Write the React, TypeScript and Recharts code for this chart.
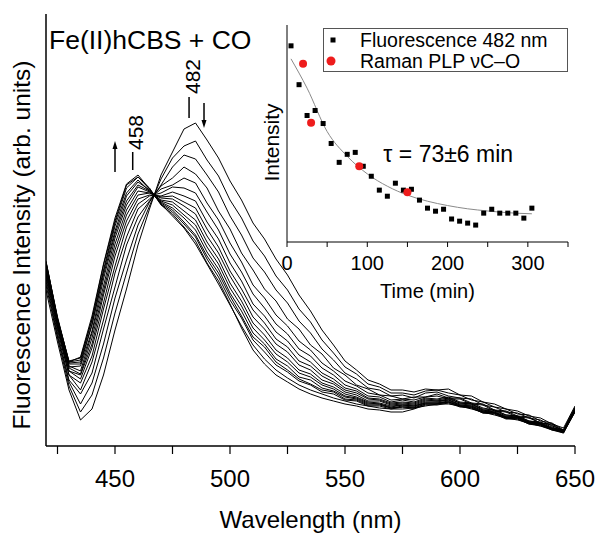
import React from "react";
import {
  LineChart, Line, XAxis, YAxis, ReferenceArea, ReferenceDot, ReferenceLine,
  ComposedChart, Scatter, Legend,
} from "recharts";

const FONT = "'Liberation Sans', Arial, Helvetica, sans-serif";
const RED = "#ee1c1c";

// Main panel: emission spectra (arb. units), 5 nm steps
const wavelengths = [420, 425, 430, 435, 440, 445, 450, 455, 460, 465, 470, 475, 480, 485, 490, 495, 500, 505, 510, 515, 520, 525, 530, 535, 540, 545, 550, 555, 560, 565, 570, 575, 580, 585, 590, 595, 600, 605, 610, 615, 620, 625, 630, 635, 640, 645, 650];

const spec00 = [156, 104, 56, 26, 37, 71, 116, 157, 201, 237, 271, 294, 317, 323, 306, 288, 265, 246, 223, 207, 187, 171, 151, 135, 116, 101, 85, 76, 66, 62, 56, 56, 54, 57, 56, 57, 51, 50, 44, 42, 37, 35, 30, 28, 22, 18, 40];
const spec01 = [161, 108, 60, 34, 51, 88, 133, 173, 212, 240, 267, 288, 300, 305, 286, 270, 246, 228, 205, 190, 170, 156, 137, 124, 106, 93, 79, 72, 62, 59, 53, 53, 51, 55, 56, 53, 51, 46, 44, 39, 37, 32, 31, 25, 23, 16, 39];
const spec02 = [165, 110, 64, 42, 63, 102, 148, 186, 221, 244, 261, 279, 291, 287, 271, 254, 230, 211, 188, 174, 156, 143, 125, 113, 97, 86, 73, 67, 58, 56, 50, 51, 48, 53, 54, 50, 48, 47, 41, 39, 34, 33, 28, 26, 20, 16, 38];
const spec03 = [168, 113, 66, 52, 73, 117, 159, 201, 229, 245, 260, 268, 279, 272, 258, 235, 217, 193, 176, 157, 145, 127, 117, 101, 92, 78, 71, 61, 57, 51, 50, 47, 49, 49, 52, 48, 48, 43, 42, 36, 35, 30, 29, 23, 22, 15, 38];
const spec04 = [171, 116, 71, 56, 84, 126, 173, 209, 237, 247, 257, 261, 268, 263, 243, 226, 203, 184, 161, 148, 131, 120, 105, 96, 83, 75, 65, 60, 53, 51, 46, 47, 46, 49, 50, 47, 47, 42, 41, 35, 34, 29, 28, 23, 21, 15, 37];
const spec05 = [173, 119, 71, 63, 90, 137, 180, 219, 242, 250, 253, 259, 258, 253, 234, 216, 192, 174, 152, 138, 122, 112, 97, 90, 78, 71, 61, 57, 50, 49, 44, 46, 44, 48, 47, 49, 44, 43, 38, 36, 31, 30, 25, 24, 19, 15, 37];
const spec06 = [175, 119, 75, 67, 98, 143, 190, 225, 247, 251, 250, 254, 250, 245, 224, 207, 183, 165, 142, 130, 114, 105, 91, 84, 73, 67, 58, 55, 48, 47, 43, 44, 43, 47, 46, 48, 43, 42, 37, 36, 31, 30, 25, 23, 18, 16, 36];
const spec07 = [177, 122, 75, 71, 102, 151, 196, 231, 251, 253, 249, 250, 244, 238, 217, 199, 175, 157, 136, 123, 107, 99, 85, 80, 70, 64, 56, 53, 47, 46, 42, 43, 42, 46, 45, 47, 43, 42, 36, 35, 30, 29, 24, 23, 18, 16, 36];
const spec08 = [178, 122, 78, 72, 108, 155, 202, 236, 255, 253, 248, 247, 240, 232, 210, 193, 170, 151, 129, 117, 102, 94, 81, 76, 66, 62, 54, 51, 45, 45, 41, 42, 41, 45, 45, 46, 42, 41, 36, 34, 29, 29, 24, 22, 17, 16, 35];
const spec09 = [180, 123, 80, 75, 113, 160, 208, 241, 259, 254, 246, 244, 235, 226, 204, 187, 163, 145, 123, 111, 96, 88, 76, 72, 63, 59, 52, 49, 44, 43, 40, 41, 40, 44, 44, 46, 41, 40, 35, 34, 29, 29, 24, 22, 17, 14, 35];
const spec10 = [181, 126, 79, 80, 115, 167, 212, 245, 261, 255, 245, 241, 231, 221, 199, 182, 158, 140, 118, 106, 92, 84, 73, 69, 61, 57, 50, 48, 43, 42, 39, 41, 40, 43, 43, 45, 41, 40, 35, 33, 29, 28, 23, 22, 17, 15, 35];
const spec11 = [182, 126, 82, 82, 121, 171, 215, 250, 264, 256, 244, 238, 228, 216, 194, 177, 153, 135, 113, 102, 87, 80, 69, 66, 58, 55, 49, 47, 42, 42, 38, 40, 39, 43, 43, 44, 40, 39, 34, 33, 28, 28, 23, 22, 17, 14, 35];
const spec12 = [183, 127, 83, 84, 122, 174, 220, 253, 266, 255, 243, 236, 224, 211, 190, 173, 150, 130, 109, 99, 84, 76, 67, 62, 56, 54, 47, 46, 41, 41, 38, 39, 38, 42, 42, 44, 40, 39, 34, 33, 28, 28, 23, 21, 17, 13, 35];
const spec13 = [184, 128, 84, 86, 126, 176, 223, 258, 269, 257, 242, 234, 222, 209, 187, 169, 146, 128, 106, 94, 81, 74, 65, 61, 54, 52, 46, 45, 40, 40, 37, 39, 38, 42, 42, 44, 40, 38, 33, 33, 28, 27, 22, 21, 16, 14, 34];
const spec14 = [185, 127, 85, 88, 127, 181, 225, 261, 269, 258, 241, 232, 219, 205, 183, 165, 142, 118, 96, 82, 71, 64, 57, 52, 48, 45, 42, 40, 37, 36, 34, 34, 37, 41, 41, 43, 39, 38, 33, 32, 27, 27, 22, 20, 16, 13, 34];
const spec15 = [184, 129, 84, 89, 130, 182, 228, 262, 271, 257, 242, 230, 218, 202, 182, 162, 141, 120, 101, 87, 76, 68, 61, 56, 52, 48, 45, 42, 40, 38, 37, 37, 38, 40, 42, 42, 40, 37, 34, 31, 28, 26, 23, 20, 17, 14, 35];

const spectra = [spec00, spec01, spec02, spec03, spec04, spec05, spec06, spec07, spec08, spec09, spec10, spec11, spec12, spec13, spec14, spec15];

const xTicks = [425, 450, 475, 500, 525, 550, 575, 600, 625, 650];

// Inset: kinetics at 482 nm
const fluoTime = [5, 15, 25, 35, 45, 55, 65, 75, 85, 95, 105, 115, 125, 135, 145, 155, 165, 175, 185, 195, 205, 215, 225, 235, 245, 255, 265, 275, 285, 295, 305];
const fluoInt = [90.4, 72.5, 58.3, 60.6, 54.6, 45.4, 36.7, 40.4, 41.3, 34.9, 30.3, 23.9, 21.1, 27.1, 23.9, 24.3, 19.3, 15.6, 14.2, 15.1, 10.6, 9.6, 8.7, 7.8, 13.3, 15.1, 13.3, 13.3, 13.3, 11.0, 15.6];
const ramanTime = [20, 30, 90, 150];
const ramanInt = [82.1, 55.0, 34.9, 22.9];
const fitTime = [5, 25, 50, 75, 100, 125, 150, 175, 200, 225, 250, 275, 305];
const fitInt = [84.4, 70.9, 50.9, 39.5, 31.4, 25.7, 21.6, 18.8, 16.8, 15.3, 14.3, 13.5, 13.0];
const insetTicks = [0, 50, 100, 150, 200, 250, 300, 350];

const spectraData = wavelengths.map((wl, i) => {
  const row: any = { wl };
  spectra.forEach((s, k) => { row[`s${k}`] = s[i]; });
  return row;
});
const fluoData = fluoTime.map((t, i) => ({ t, v: fluoInt[i] }));
const ramanData = ramanTime.map((t, i) => ({ t, v: ramanInt[i] }));
const fitData = fitTime.map((t, i) => ({ t, v: fitInt[i] }));

// line with a filled arrow head at (x2, y2)
const Arrow = (props: any) => {
  const { x1, y1, x2, y2 } = props;
  const dx = x2 - x1, dy = y2 - y1;
  const len = Math.sqrt(dx * dx + dy * dy) || 1;
  const ux = dx / len, uy = dy / len;
  const hl = 8, hw = 2.5;
  const bx = x2 - ux * hl, by = y2 - uy * hl;
  return (
    <g>
      <line x1={x1} y1={y1} x2={bx} y2={by} stroke="#000" strokeWidth={1.5} />
      <polygon points={`${x2},${y2} ${bx - uy * hw},${by + ux * hw} ${bx + uy * hw},${by - ux * hw}`} fill="#000" />
    </g>
  );
};

const rotatedText = (text: string, size: number) => (p: any) => (
  <text x={p.cx} y={p.cy} transform={`rotate(-90 ${p.cx} ${p.cy})`} textAnchor="middle"
    dominantBaseline="central" fontSize={size} fontFamily={FONT} fill="#000">{text}</text>
);

const plainText = (text: string, size: number) => (p: any) => (
  <text x={p.cx} y={p.cy} textAnchor="start" fontSize={size} fontFamily={FONT} fill="#000">{text}</text>
);

const legendIcons: Record<string, string> = {
  "Fluorescence 482 nm": "square",
  "Raman PLP \u03bdC\u2013O": "circle",
};

const InsetLegend = ({ payload }: any) => (
  <div style={{ border: "1px solid #555", width: 245, height: 44, boxSizing: "border-box", padding: "1px 0 0 0" }}>
    {(payload || []).filter((e: any) => e.type !== "none").map((e: any) => (
      <div key={e.value} style={{ display: "flex", alignItems: "center", height: 20.5, fontFamily: FONT, color: "#000", whiteSpace: "nowrap" }}>
        <svg width={36} height={20} style={{ flex: "none" }}>
          {legendIcons[e.value] === "circle"
            ? <circle cx={7} cy={10} r={4.5} fill={RED} />
            : <rect x={6.5} y={7.5} width={5} height={5} fill="#000" />}
        </svg>
        <span style={{ display: "inline-block", fontSize: 19.5, lineHeight: "20px", height: 20, overflow: "visible" }}>{e.value}</span>
      </div>
    ))}
  </div>
);

const SquareDot = (p: any) => <rect x={p.cx - 2.5} y={p.cy - 2.5} width={5} height={5} fill="#000" />;
const RedDot = (p: any) => <circle cx={p.cx} cy={p.cy} r={4} fill={RED} />;

function MainChart() {
  return (
    <LineChart width={601} height={536} data={spectraData} margin={{ top: 14, right: 26, left: 0, bottom: 0 }}>
      <XAxis dataKey="wl" type="number" domain={[420, 650]} ticks={xTicks} allowDataOverflow
        tickFormatter={(v: number) => (v % 50 === 0 ? String(v) : "")}
        height={90} tickSize={8} tickMargin={16}
        axisLine={{ stroke: "#000", strokeWidth: 1.5 }} tickLine={{ stroke: "#000", strokeWidth: 1.2 }}
        tick={{ fill: "#000", fontSize: 24, fontFamily: FONT }}
        label={{ value: "Wavelength (nm)", position: "insideBottom", offset: 8, fill: "#000", fontSize: 24, fontFamily: FONT }} />
      <YAxis type="number" domain={[0, 432]} width={46} tick={false} tickLine={false}
        axisLine={{ stroke: "#000", strokeWidth: 1.5 }}
        label={{ value: "Fluorescence Intensity (arb. units)", angle: -90, position: "insideLeft", offset: 21, dy: 15, fill: "#000", fontSize: 24.5, fontFamily: FONT, style: { textAnchor: "middle" } }} />
      <ReferenceArea fill="none" stroke="#000" strokeWidth={1.5} fillOpacity={0} />
      {spectra.map((_, k) => (
        <Line key={k} dataKey={`s${k}`} type="linear" stroke="#000" strokeWidth={1} dot={false}
          isAnimationActive={false} legendType="none" />
      ))}
      <ReferenceDot x={421.3} y={397} r={0} shape={plainText("Fe(II)hCBS + CO", 26.5)} />
      <ReferenceDot x={459.1} y={313.5} r={0} shape={rotatedText("458", 21)} />
      <ReferenceLine segment={[{ x: 457.7, y: 276 }, { x: 457.7, y: 294 }]} stroke="#000" strokeWidth={1.5} />
      <ReferenceDot x={483.9} y={369.5} r={0} shape={rotatedText("482", 21)} />
      <ReferenceLine segment={[{ x: 482.2, y: 328 }, { x: 482.2, y: 349 }]} stroke="#000" strokeWidth={1.5} />
      <ReferenceLine segment={[{ x: 450, y: 274 }, { x: 450, y: 305 }]} shape={Arrow} />
      <ReferenceLine segment={[{ x: 488.7, y: 343 }, { x: 488.7, y: 318 }]} shape={Arrow} />
    </LineChart>
  );
}

function InsetChart() {
  return (
    <ComposedChart width={340} height={310} margin={{ top: 25, right: 12, left: 0, bottom: 0 }}>
      <XAxis dataKey="t" type="number" domain={[0, 350]} ticks={insetTicks} allowDataOverflow
        tickFormatter={(v: number) => (v % 100 === 0 && v < 350 ? String(v) : "")}
        height={68} tickSize={5} tickMargin={9}
        axisLine={{ stroke: "#000", strokeWidth: 1 }} tickLine={{ stroke: "#000" }}
        tick={{ fill: "#000", fontSize: 20, fontFamily: FONT }}
        label={{ value: "Time (min)", position: "insideBottom", offset: 12, fill: "#000", fontSize: 20, fontFamily: FONT }} />
      <YAxis dataKey="v" type="number" domain={[0, 100]} width={47} tick={false} tickLine={false}
        axisLine={{ stroke: "#000", strokeWidth: 1 }}
        label={{ value: "Intensity", angle: -90, position: "insideLeft", offset: 32, dy: 9, fill: "#000", fontSize: 21, fontFamily: FONT, style: { textAnchor: "middle" } }} />
      <ReferenceArea fill="none" stroke="#000" strokeWidth={1} fillOpacity={0} />
      <Line data={fitData} dataKey="v" type="monotone" stroke="#8a8a8a" strokeWidth={1} dot={false}
        isAnimationActive={false} legendType="none" />
      <Scatter name="Fluorescence 482 nm" data={fluoData} dataKey="v" fill="#000" shape={SquareDot} isAnimationActive={false} />
      <Scatter name={"Raman PLP \u03bdC\u2013O"} data={ramanData} dataKey="v" fill={RED} shape={RedDot} isAnimationActive={false} />
      <ReferenceDot x={120} y={37} r={0} shape={plainText("\u03c4 = 73\u00b16 min", 23)} />
      <Legend layout="horizontal" verticalAlign="middle" align="center" content={<InsetLegend />}
        wrapperStyle={{ position: "absolute", left: 83, top: 28, width: 245, height: 44 }} />
    </ComposedChart>
  );
}

export default function App() {
  return (
    <div style={{ position: "absolute", left: 0, top: 0, width: 601, height: 536, background: "#fff" }}>
      <div style={{ position: "absolute", left: 0, top: 0 }}>
        <MainChart />
      </div>
      <div style={{ position: "absolute", left: 240, top: 0 }}>
        <InsetChart />
      </div>
    </div>
  );
}
